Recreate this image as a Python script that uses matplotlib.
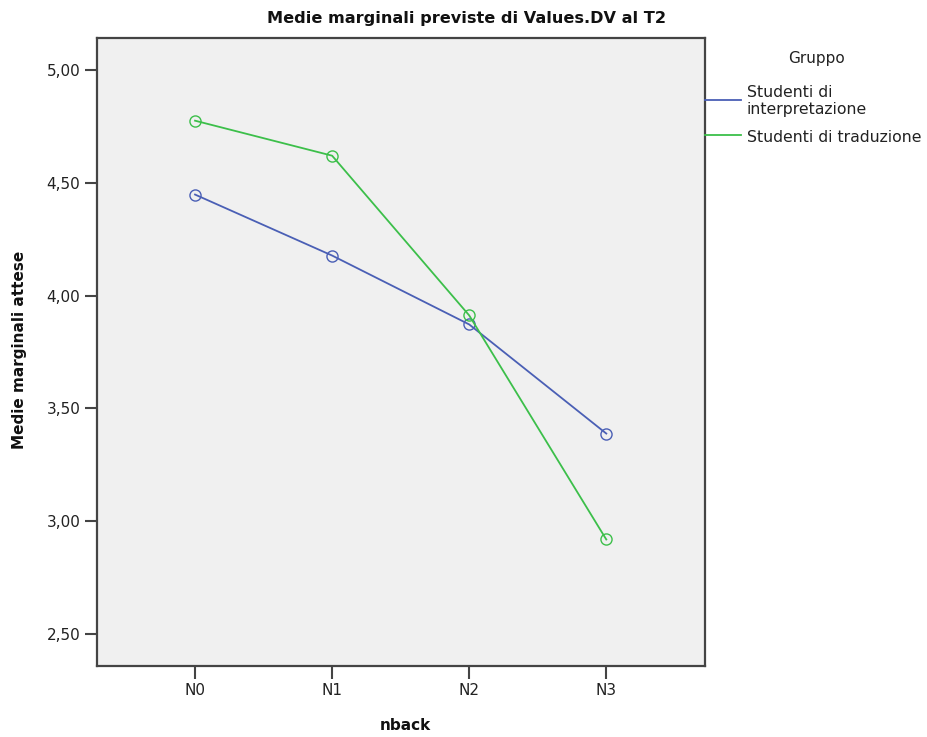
import matplotlib.pyplot as plt
from matplotlib.ticker import FuncFormatter

# data
categories = ["N0", "N1", "N2", "N3"]
interp_vals = [4.447, 4.177, 3.872, 3.389]
trad_vals = [4.774, 4.619, 3.912, 2.920]
series_names = ["Studenti di\ninterpretazione", "Studenti di traduzione"]
y_ticks = [2.5, 3.0, 3.5, 4.0, 4.5, 5.0]

blue = "#4A5FB5"
green = "#3CBF4A"

fig = plt.figure(figsize=(9.28, 7.37), dpi=100)
ax = fig.add_axes([97 / 928, 1 - 666 / 737, 608 / 928, 628 / 737])
ax.set_facecolor("#F0F0F0")

x = list(range(len(categories)))
l1, = ax.plot(x, interp_vals, color=blue, lw=1.3, marker="o", markersize=8,
              markerfacecolor="none", markeredgewidth=1.0)
l2, = ax.plot(x, trad_vals, color=green, lw=1.3, marker="o", markersize=8,
              markerfacecolor="none", markeredgewidth=1.0)

ax.set_xlim(-0.715, 3.72)
ax.set_ylim(2.36, 5.14)
ax.set_xticks(x)
ax.set_xticklabels(categories)
ax.set_yticks(y_ticks)
ax.yaxis.set_major_formatter(FuncFormatter(lambda v, p: f"{v:.2f}".replace(".", ",")))

for s in ax.spines.values():
    s.set_color("#444444")
    s.set_linewidth(1.6)
ax.tick_params(length=9, width=1.5, color="#444444", labelsize=11, labelcolor="#222222", pad=3)

fig.text(467 / 928, 1 - 18 / 737, "Medie marginali previste di Values.DV al T2",
         ha="center", va="center", fontsize=11.6, fontweight="bold", color="#111111")
fig.text(20 / 928, 1 - 350 / 737, "Medie marginali attese", rotation=90,
         ha="center", va="center", fontsize=11, fontweight="bold", color="#111111")
fig.text(405 / 928, 1 - 726 / 737, "nback", ha="center", va="center",
         fontsize=11, fontweight="bold", color="#111111")

# legend drawn by hand to mimic the SPSS layout
fig.text(817 / 928, 1 - 58 / 737, "Gruppo", ha="center", va="center", fontsize=11, color="#222222")
leg_y = [100, 135]
leg_text_y = [100, 137]
for name, col, ly, ty in zip(series_names, [blue, green], leg_y, leg_text_y):
    fig.add_artist(plt.Line2D([705 / 928, 741 / 928], [1 - ly / 737, 1 - ly / 737],
                              color=col, lw=1.3, transform=fig.transFigure))
    va = "top" if "\n" in name else "center"
    yy = 1 - (ly - 15) / 737 if "\n" in name else 1 - ty / 737
    fig.text(747 / 928, yy, name, ha="left", va=va, fontsize=11.3,
             color="#222222", linespacing=1.2)

fig.savefig("out.png", dpi=100)
